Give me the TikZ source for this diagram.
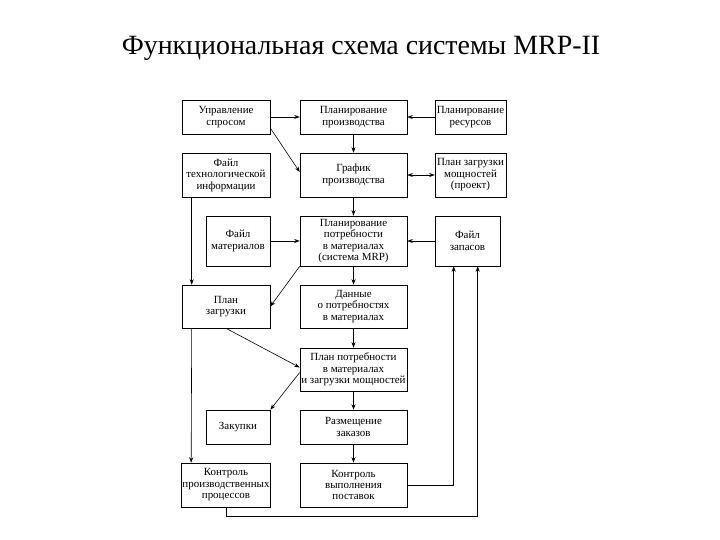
\documentclass[tikz,border=0pt]{standalone}
\usepackage{fontspec}
\setmainfont{Liberation Serif}
\usepackage{tikz}
\usetikzlibrary{arrows.meta,shapes}

\begin{document}
\begin{tikzpicture}[>={Stealth[length=5.5bp,width=4bp]},line width=0.6pt,
  blk/.style={draw,align=center,inner sep=1pt,font=\fontsize{11}{11.5}\selectfont}]
\useasboundingbox (0bp,0bp) rectangle (720bp,-540bp);
\node (title) at (361bp,-48bp)[font=\fontsize{28}{32}\selectfont] {Функциональная схема системы MRP-II};
\node (upr) at (226bp,-117bp)[blk,minimum width=88bp,minimum height=34bp] {Управление\\спросом};
\node (planpr) at (353.5bp,-117bp)[blk,minimum width=107bp,minimum height=34bp] {Планирование\\производства};
\node (planres) at (470.5bp,-117bp)[blk,minimum width=71bp,minimum height=34bp] {Планирование\\ресурсов};
\node (filetech) at (226bp,-175bp)[blk,minimum width=88bp,minimum height=44bp] {Файл\\технологической\\информации};
\node (graph) at (353.5bp,-175bp)[blk,minimum width=107bp,minimum height=44bp] {График\\производства};
\node (zagrm) at (470.5bp,-175bp)[blk,minimum width=71bp,minimum height=44bp] {План загрузки\\мощностей\\(проект)};
\node (filemat) at (238bp,-241bp)[blk,minimum width=64bp,minimum height=50bp] {Файл\\материалов};
\node (mrp) at (353.5bp,-241bp)[blk,minimum width=107bp,minimum height=50bp] {Планирование\\потребности\\в материалах\\(система MRP)};
\node (filezap) at (467.5bp,-241bp)[blk,minimum width=65bp,minimum height=50bp] {Файл\\запасов};
\node (planzagr) at (226bp,-306.5bp)[blk,minimum width=88bp,minimum height=43bp] {План\\загрузки};
\node (dannye) at (353.5bp,-306.5bp)[blk,minimum width=107bp,minimum height=43bp] {Данные\\о потребностях\\в материалах};
\node (planpotr) at (353.5bp,-369.5bp)[blk,minimum width=107bp,minimum height=43bp] {План потребности\\в материалах\\и загрузки мощностей};
\node (zakup) at (238bp,-427bp)[blk,minimum width=64bp,minimum height=34bp] {Закупки};
\node (razm) at (353.5bp,-427bp)[blk,minimum width=107bp,minimum height=34bp] {Размещение\\заказов};
\node (kontrpr) at (226bp,-485bp)[blk,minimum width=88bp,minimum height=44bp] {Контроль\\производственных\\процессов};
\node (kontrpost) at (353.5bp,-485bp)[blk,minimum width=107bp,minimum height=44bp] {Контроль\\выполнения\\поставок};
\draw [->] (upr) -- (planpr);
\draw [->] (planres) -- (planpr);
\draw [->] ([yshift=-11bp]upr.east) -- ([yshift=3bp]graph.west);
\draw [->] (planpr) -- (graph);
\draw [<->] (graph) -- (zagrm);
\draw [->] (graph) -- (mrp);
\draw [->] (filemat) -- (mrp);
\draw [->] (filezap) -- (mrp);
\draw [->] ([xshift=10bp]filetech.south west) -- ([xshift=10bp]planzagr.north west);
\draw [->] (mrp.south west) -- (planzagr.east);
\draw [->] (mrp) -- (dannye);
\draw [->] (dannye) -- (planpotr);
\draw [->] (planzagr.south) -- ([yshift=2bp]planpotr.west);
\draw [->] ([yshift=-3bp]planpotr.west) -- (zakup.north east);
\draw [->] (planpotr) -- (razm);
\draw [->] (razm) -- (kontrpost);
\draw [->] ([xshift=10bp]planzagr.south west) -- ([xshift=10bp]kontrpr.north west);
\draw [->] (kontrpost.east) -| ([xshift=19bp]filezap.south west);
\draw [->] (kontrpr.south) -- ++(0,-9bp) -| ([xshift=43bp]filezap.south west);
\end{tikzpicture}
\end{document}
